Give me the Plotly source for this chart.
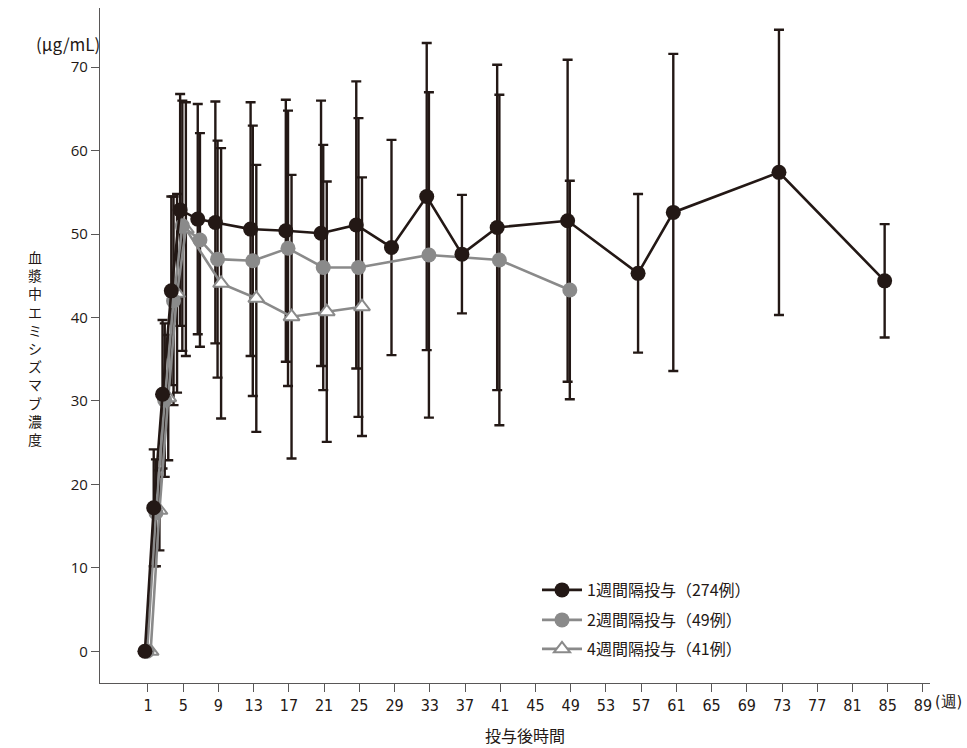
import plotly.graph_objects as go

# ---------------- data ----------------
weeks_1w = [1, 2, 3, 4, 5, 7, 9, 13, 17, 21, 25, 29, 33, 37, 41, 49, 57, 61, 73, 85]
mean_1w = [0.0, 17.2, 30.8, 43.2, 52.9, 51.8, 51.4, 50.6, 50.4, 50.1, 51.1, 48.4, 54.5, 47.6, 50.8, 51.6, 45.3, 52.6, 57.4, 44.4]
sd_1w = [0.0, 7.0, 8.9, 11.3, 13.9, 13.8, 14.5, 15.2, 15.7, 15.9, 17.2, 12.9, 18.4, 7.1, 19.5, 19.3, 9.5, 19.0, 17.1, 6.8]

weeks_2w = [1, 2, 3, 4, 5, 7, 9, 13, 17, 21, 25, 33, 41, 49]
mean_2w = [0.0, 16.6, 30.1, 42.0, 51.0, 49.3, 47.0, 46.8, 48.3, 46.0, 46.0, 47.5, 46.9, 43.3]
sd_2w = [0.0, 6.4, 9.2, 12.5, 15.0, 12.8, 14.2, 16.2, 16.5, 14.7, 17.9, 19.5, 19.8, 13.1]

weeks_4w = [1, 2, 3, 4, 5, 9, 13, 17, 21, 25]
mean_4w = [0.0, 16.9, 30.4, 42.9, 50.6, 44.1, 42.3, 40.1, 40.7, 41.3]
sd_4w = [0.0, 4.8, 7.5, 11.9, 15.2, 16.2, 16.0, 17.0, 15.6, 15.5]

names = ["1週間隔投与（274例）", "2週間隔投与（49例）", "4週間隔投与（41例）"]

x_ticks = list(range(1, 90, 4))
y_ticks = list(range(0, 71, 10))

# ---------------- style ----------------
DARK = "#231815"
GRAY = "#8a8a8a"
AXIS = "#595757"
FONT = "Noto Sans CJK JP"
NARROW = "Liberation Sans Narrow, DejaVu Sans Condensed"
dodge = {"1w": -0.35, "2w": -0.1, "4w": 0.3}

series = [
    dict(key="1w", w=weeks_1w, m=mean_1w, s=sd_1w, name=names[0], legend="legend",
         line=DARK, marker=dict(symbol="circle", size=15, color=DARK, line=dict(width=0))),
    dict(key="2w", w=weeks_2w, m=mean_2w, s=sd_2w, name=names[1], legend="legend2",
         line=GRAY, marker=dict(symbol="circle", size=15, color=GRAY, line=dict(width=0))),
    dict(key="4w", w=weeks_4w, m=mean_4w, s=sd_4w, name=names[2], legend="legend3",
         line=GRAY, marker=dict(symbol="triangle-up", size=14, color="white", line=dict(width=2, color=GRAY))),
]

fig = go.Figure()

# error bars first (all beneath the lines)
for sr in series:
    xs = [w + dodge[sr["key"]] for w in sr["w"]]
    fig.add_trace(go.Scatter(
        x=xs, y=sr["m"], mode="markers",
        marker=dict(size=1, color="rgba(0,0,0,0)"),
        error_y=dict(type="data", array=sr["s"], visible=True, color=DARK, thickness=2.4, width=5),
        showlegend=False, hoverinfo="skip",
    ))

# lines + markers: 4w at bottom, 1w on top
for sr in reversed(series):
    xs = [w + dodge[sr["key"]] for w in sr["w"]]
    fig.add_trace(go.Scatter(
        x=xs, y=sr["m"], mode="lines+markers", name=sr["name"], legend=sr["legend"],
        line=dict(color=sr["line"], width=2.6),
        marker=sr["marker"],
    ))

leg_common = dict(x=0.5265, xanchor="left", yanchor="top",
                  font=dict(family=FONT, size=16, color=DARK),
                  bgcolor="rgba(0,0,0,0)", itemwidth=40)

fig.update_layout(
    width=967, height=748,
    margin=dict(l=100, r=37, t=8, b=65),
    paper_bgcolor="white", plot_bgcolor="white",
    font=dict(family=FONT, size=15, color=DARK),
    showlegend=True,
    legend=dict(y=0.163, **leg_common),
    legend2=dict(y=0.1185, **leg_common),
    legend3=dict(y=0.0756, **leg_common),
    xaxis=dict(range=[-4.45, 89.8], tickmode="array", tickvals=x_ticks,
               ticktext=[str(t) for t in x_ticks],
               showgrid=False, zeroline=False, showline=True, linecolor=AXIS, linewidth=1.3,
               ticks="outside", ticklen=8, tickcolor=AXIS, tickwidth=1.2,
               tickfont=dict(family=NARROW, size=16, color=DARK)),
    yaxis=dict(range=[-3.8, 77.1], tickmode="array", tickvals=y_ticks,
               showgrid=False, zeroline=False, showline=True, linecolor=AXIS, linewidth=1.3,
               ticks="outside", ticklen=8, tickcolor=AXIS, tickwidth=1.2,
               tickfont=dict(family="Open Sans", size=15, color=DARK)),
    annotations=[
        dict(text="(μg/mL)", xref="paper", yref="paper", x=0.002, y=0.947,
             xanchor="right", yanchor="middle", showarrow=False,
             font=dict(family=FONT, size=17, color=DARK)),
        dict(text="<br>".join(list("血漿中エミシズマブ濃度")), xref="paper", yref="paper",
             x=-0.078, y=0.496, xanchor="center", yanchor="middle", showarrow=False,
             font=dict(family=FONT, size=14, color=DARK)),
        dict(text="(週)", xref="paper", yref="paper", x=1.004, y=-0.028,
             xanchor="left", yanchor="middle", showarrow=False,
             font=dict(family=NARROW, size=16, color=DARK)),
        dict(text="投与後時間", xref="paper", yref="paper", x=0.512, y=-0.077,
             xanchor="center", yanchor="middle", showarrow=False,
             font=dict(family=FONT, size=16, color=DARK)),
    ],
)

fig.write_html("out.html")
